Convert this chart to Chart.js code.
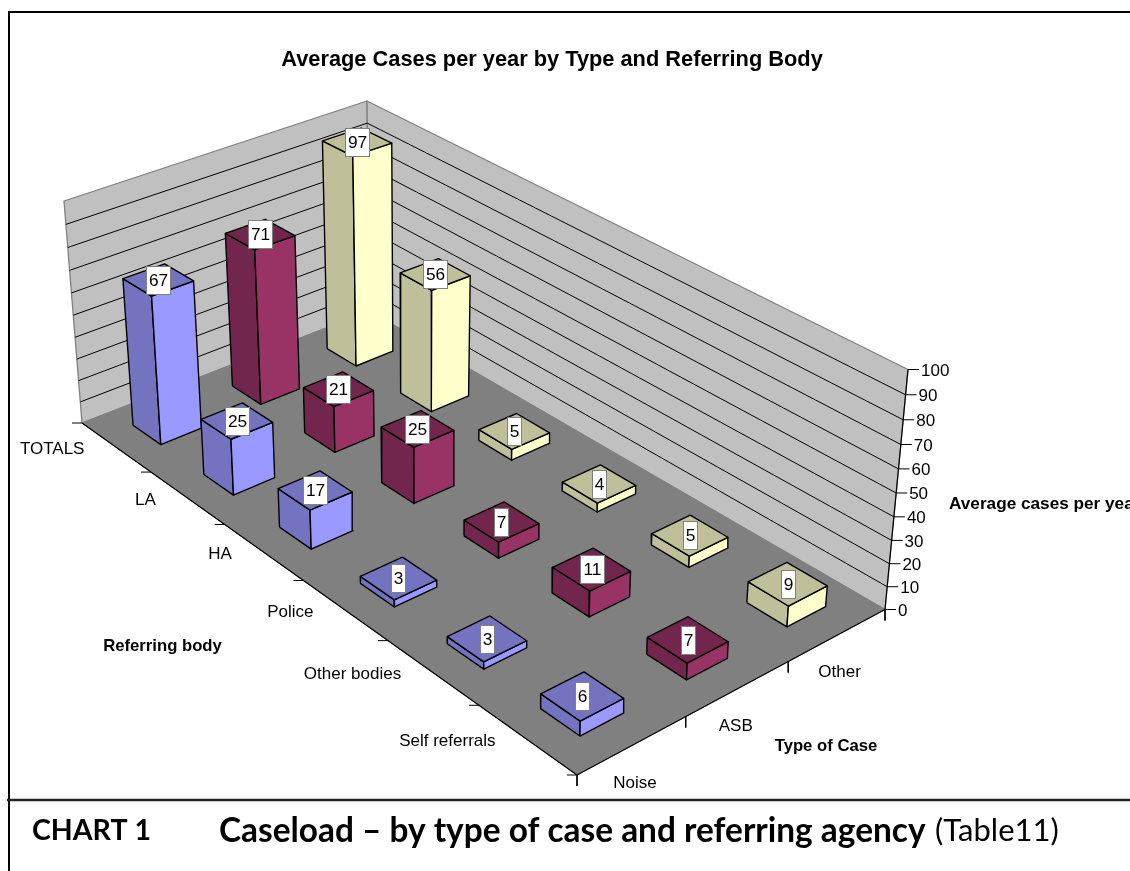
<!DOCTYPE html>
<html>
<head>
<meta charset="utf-8">
<title>Average Cases per year</title>
<script src="https://cdn.jsdelivr.net/npm/chart.js@4"></script>
<style>
  html, body { margin: 0; padding: 0; background: #fff; overflow: hidden; }
  canvas { display: block; }
</style>
</head>
<body>
<canvas id="chart3d" width="1130" height="871"></canvas>
<script>
const referringBodies = ["TOTALS", "LA", "HA", "Police", "Other bodies", "Self referrals"];
const caseTypes = ["Noise", "ASB", "Other"];
const noiseCases = [67, 25, 17, 3, 3, 6];
const asbCases = [71, 21, 25, 7, 11, 7];
const otherCases = [97, 56, 5, 4, 5, 9];
const valueTicks = [0, 10, 20, 30, 40, 50, 60, 70, 80, 90, 100];

const seriesValues = [noiseCases, asbCases, otherCases];
const seriesColors = [
  { light: "#9999FF", dark: "#7373BF" },
  { light: "#993366", dark: "#73264D" },
  { light: "#FFFFCC", dark: "#BFBF99" },
];

const ARIAL = '"Liberation Sans", Arial, sans-serif';
const CAPTION = 'Lato, "Noto Sans", sans-serif';
const maxValue = valueTicks[valueTicks.length - 1];
const barShare = 0.4; // gap width 150%

// floor corners, as seen on screen
const cornerA = [82, 423];
const cornerB = [577, 775];
const cornerC = [885, 609.5];
const cornerD = [369.5, 311];
// how far a full height (100) reaches from each floor corner
const riseA = [-18, -222];
const riseB = [2, -268];
const riseC = [23, -240];
const riseD = [-2.5, -210];

// floor homography, unit square to quad
const sx = cornerA[0] - cornerB[0] + cornerC[0] - cornerD[0];
const sy = cornerA[1] - cornerB[1] + cornerC[1] - cornerD[1];
const dx1 = cornerB[0] - cornerC[0], dx2 = cornerD[0] - cornerC[0];
const dy1 = cornerB[1] - cornerC[1], dy2 = cornerD[1] - cornerC[1];
const den = dx1 * dy2 - dx2 * dy1;
const g = (sx * dy2 - dx2 * sy) / den;
const h = (dx1 * sy - sx * dy1) / den;

// u runs along referring bodies, v along case types, value is the height
function project(u, v, value) {
  const s = u / referringBodies.length;
  const t = v / caseTypes.length;
  const w = 1 + g * s + h * t;
  const fx = (cornerA[0] + s * (cornerB[0] - cornerA[0] + g * cornerB[0]) + t * (cornerD[0] - cornerA[0] + h * cornerD[0])) / w;
  const fy = (cornerA[1] + s * (cornerB[1] - cornerA[1] + g * cornerB[1]) + t * (cornerD[1] - cornerA[1] + h * cornerD[1])) / w;
  const riseX = (1 - s) * (1 - t) * riseA[0] + s * (1 - t) * riseB[0] + s * t * riseC[0] + (1 - s) * t * riseD[0];
  const riseY = (1 - s) * (1 - t) * riseA[1] + s * (1 - t) * riseB[1] + s * t * riseC[1] + (1 - s) * t * riseD[1];
  const p = value / maxValue;
  const lift = p / (1.06 - 0.06 * p); // heights grow a little towards the top
  return { x: fx + riseX * lift, y: fy + riseY * lift };
}

const shapes = [];
function addShape(points, fillColor, lineColor, lineWidth) {
  shapes.push({
    data: points,
    showLine: true,
    pointRadius: 0,
    tension: 0,
    fill: fillColor ? "shape" : false,
    backgroundColor: fillColor || "transparent",
    borderColor: lineColor,
    borderWidth: lineWidth,
    borderJoinStyle: "round",
    clip: false,
  });
}
function closed(points) {
  return points.concat([points[0]]);
}

const nU = referringBodies.length;
const nV = caseTypes.length;

// walls
addShape(closed([project(0, 0, 0), project(0, nV, 0), project(0, nV, maxValue), project(0, 0, maxValue)]), "#C0C0C0", "#808080", 1.3);
addShape(closed([project(0, nV, 0), project(nU, nV, 0), project(nU, nV, maxValue), project(0, nV, maxValue)]), "#C0C0C0", "#808080", 1.3);
// floor
addShape(closed([project(0, 0, 0), project(nU, 0, 0), project(nU, nV, 0), project(0, nV, 0)]), "#808080", "#808080", 1);
// gridlines
valueTicks.slice(1, -1).forEach((tick) => {
  addShape([project(0, 0, tick), project(0, nV, tick), project(nU, nV, tick)], null, "#000", 1);
});
// axes
addShape([project(0, 0, 0), project(nU, 0, 0), project(nU, nV, 0)], null, "#000", 1.2);
addShape([project(nU, nV, 0), project(nU, nV, maxValue)], null, "#000", 1.2);
valueTicks.forEach((tick) => {
  const p = project(nU, nV, tick);
  addShape([p, { x: p.x + 11, y: p.y }], null, "#000", 1);
});
for (let u = 0; u <= nU; u++) {
  const p = project(u, 0, 0);
  addShape([{ x: p.x - 10, y: p.y }, p], null, "#000", 1);
}
for (let v = 0; v <= nV; v++) {
  const p = project(nU, v, 0);
  addShape([p, { x: p.x, y: p.y + 11 }], null, "#000", 1);
}

// bars, far ones first
const barLabels = [];
for (let u = 0; u < nU; u++) {
  for (let v = nV - 1; v >= 0; v--) {
    const value = seriesValues[v][u];
    const color = seriesColors[v];
    const u0 = u + (1 - barShare) / 2, u1 = u + (1 + barShare) / 2;
    const v0 = v + (1 - barShare) / 2, v1 = v + (1 + barShare) / 2;
    addShape(closed([project(u0, v0, 0), project(u1, v0, 0), project(u1, v0, value), project(u0, v0, value)]), color.dark, "#000", 1.4);
    addShape(closed([project(u1, v0, 0), project(u1, v1, 0), project(u1, v1, value), project(u1, v0, value)]), color.light, "#000", 1.4);
    addShape(closed([project(u0, v0, value), project(u1, v0, value), project(u1, v1, value), project(u0, v1, value)]), color.dark, "#000", 1.4);
    barLabels.push({ u: u + 0.5, v: v + 0.5, value });
  }
}

// paint order: chart.js draws the highest order first
shapes.forEach((shape, i) => {
  shape.order = shapes.length - i;
});

function putText(ctx, text, x, y, font, align) {
  ctx.font = font;
  ctx.textAlign = align;
  ctx.textBaseline = "middle";
  ctx.fillStyle = "#000";
  ctx.fillText(text, x, y);
}

const textPlugin = {
  id: "textPlugin",
  afterDatasetsDraw(chart) {
    const ctx = chart.ctx;
    const xs = chart.scales.x;
    const ys = chart.scales.y;
    ctx.save();

    // frame
    ctx.strokeStyle = "#000";
    ctx.lineWidth = 2;
    ctx.beginPath();
    ctx.moveTo(xs.getPixelForValue(1130), ys.getPixelForValue(12));
    ctx.lineTo(xs.getPixelForValue(9), ys.getPixelForValue(12));
    ctx.lineTo(xs.getPixelForValue(9), ys.getPixelForValue(871));
    ctx.stroke();
    ctx.strokeStyle = "#222";
    ctx.lineWidth = 2.5;
    ctx.beginPath();
    ctx.moveTo(xs.getPixelForValue(7), ys.getPixelForValue(800));
    ctx.lineTo(xs.getPixelForValue(1130), ys.getPixelForValue(800));
    ctx.stroke();

    // value labels
    barLabels.forEach((label) => {
      const p = project(label.u, label.v, label.value);
      const text = String(label.value);
      const boxW = text.length > 1 ? 24 : 14;
      const px = Math.round(xs.getPixelForValue(p.x)) + 0.5;
      const py = Math.round(ys.getPixelForValue(p.y)) + 0.5;
      ctx.fillStyle = "#fff";
      ctx.fillRect(px - boxW / 2, py - 14, boxW, 28);
      ctx.strokeStyle = "#808080";
      ctx.lineWidth = 1;
      ctx.strokeRect(px - boxW / 2, py - 14, boxW, 28);
      putText(ctx, text, px, py + 1, "17.3px " + ARIAL, "center");
    });

    // tick labels
    const tickFont = "17px " + ARIAL;
    valueTicks.forEach((tick) => {
      const p = project(nU, nV, tick);
      putText(ctx, String(tick), p.x + 13, p.y + 1.5, tickFont, "left");
    });
    referringBodies.forEach((name, u) => {
      const p = project(u + 0.5, 0, 0);
      putText(ctx, name, p.x - 31.5, p.y + 2, tickFont, "right");
    });
    caseTypes.forEach((name, v) => {
      const p = project(nU, v + 0.5, 0);
      putText(ctx, name, p.x - 19, p.y + 37.5, tickFont, "left");
    });

    // titles
    const boldFont = "bold 16.7px " + ARIAL;
    putText(ctx, "Average Cases per year by Type and Referring Body", 552, 60, "bold 21.8px " + ARIAL, "center");
    putText(ctx, "Referring body", 162.5, 646, boldFont, "center");
    putText(ctx, "Type of Case", 826, 746, boldFont, "center");
    putText(ctx, "Average cases per year", 949, 504, "bold 17.2px " + ARIAL, "left");

    // caption
    putText(ctx, "CHART 1", 32, 831, "bold 28.5px " + CAPTION, "left");
    putText(ctx, "Caseload – by type of case and referring agency", 219, 831, "bold 33.4px " + CAPTION, "left");
    putText(ctx, "(Table11)", 935, 831, "31px " + CAPTION, "left");
    ctx.restore();
  },
};

new Chart(document.getElementById("chart3d").getContext("2d"), {
  type: "scatter",
  data: { datasets: shapes },
  plugins: [textPlugin],
  options: {
    responsive: false,
    animation: false,
    events: [],
    layout: { padding: 0 },
    plugins: {
      legend: { display: false },
      tooltip: { enabled: false },
    },
    scales: {
      x: { type: "linear", min: 0, max: 1130, display: false },
      y: { type: "linear", min: 0, max: 871, reverse: true, display: false },
    },
  },
});
</script>
</body>
</html>
